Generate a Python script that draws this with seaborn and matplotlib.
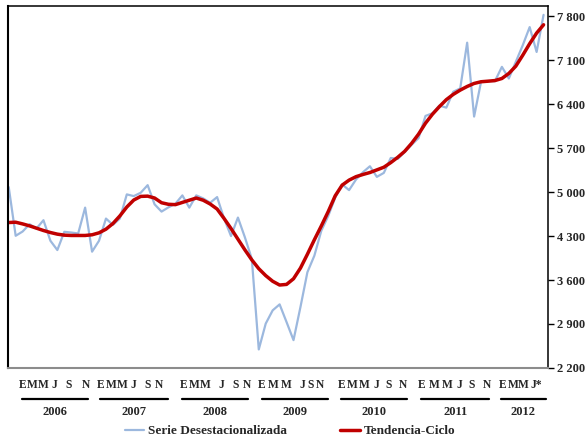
import numpy as np
import pandas as pd
import matplotlib
matplotlib.use("Agg")
import matplotlib.pyplot as plt
import seaborn as sns

# Serie mensual ene-2006 a jun-2012
serie_desest = [5079, 4304, 4372, 4488, 4420, 4552, 4225, 4077, 4367, 4356, 4341, 4752,
                4051, 4225, 4578, 4478, 4578, 4963, 4936, 4989, 5110, 4805, 4689, 4757,
                4815, 4947, 4752, 4947, 4899, 4830, 4920, 4580, 4300, 4594, 4280, 3934,
                2495, 2906, 3117, 3212, 2930, 2643, 3170, 3724, 3987, 4383, 4620, 4910,
                5121, 5031, 5200, 5316, 5411, 5242, 5305, 5543, 5527, 5637, 5753, 5859,
                6212, 6254, 6376, 6344, 6597, 6650, 7378, 6202, 6756, 6766, 6766, 6993,
                6808, 7072, 7336, 7626, 7230, 7821]
tendencia = [4515, 4520, 4493, 4462, 4425, 4388, 4356, 4330, 4314, 4309, 4309, 4309,
             4320, 4351, 4409, 4499, 4620, 4762, 4873, 4931, 4935, 4905, 4830, 4805,
             4800, 4835, 4870, 4905, 4870, 4810, 4730, 4580, 4420, 4250, 4080, 3920,
             3780, 3670, 3580, 3520, 3530, 3620, 3790, 4010, 4240, 4460, 4690, 4940,
             5110, 5190, 5245, 5280, 5311, 5353, 5395, 5469, 5553, 5648, 5775, 5922,
             6096, 6239, 6360, 6471, 6555, 6623, 6681, 6729, 6756, 6765, 6775, 6808,
             6888, 7004, 7178, 7362, 7531, 7663]

anios = ["2006", "2007", "2008", "2009", "2010", "2011", "2012"]
meses_etiq = [["E", "M", "M", "J", "S", "N"]] * 6 + [["E", "M", "M", "J*"]]
# posicion (en meses) de cada letra bajo el eje
meses_pos = [[2.0, 3.4, 4.9, 6.6, 8.6, 11.1],
             [13.2, 14.8, 16.4, 18.0, 20.0, 21.7],
             [25.2, 26.7, 28.3, 30.6, 32.6, 34.3],
             [36.4, 38.1, 39.9, 42.2, 43.5, 44.8],
             [47.9, 49.4, 51.2, 52.9, 54.7, 56.7],
             [59.4, 61.2, 63.2, 64.9, 66.6, 68.8],
             [71.1, 72.6, 74.1, 75.9]]
anio_tramos = [(1.9, 11.4), (13.1, 22.9), (24.9, 34.5), (36.4, 45.9),
               (47.9, 57.4), (59.4, 69.2), (70.9, 77.3)]
y_ticks = [2200, 2900, 3600, 4300, 5000, 5700, 6400, 7100, 7800]

df = pd.DataFrame({"mes": np.arange(len(serie_desest)),
                   "serie": serie_desest, "tendencia": tendencia})

sns.set_style("white")
plt.rcParams["font.family"] = ["Liberation Serif", "DejaVu Serif"]
plt.rcParams["font.weight"] = "bold"

fig = plt.figure(figsize=(5.86, 4.37), dpi=100)
ax = fig.add_axes([0.0137, 0.158, 0.921, 0.828])

sns.lineplot(data=df, x="mes", y="serie", ax=ax, color="#9cb8de", lw=1.6,
             label="Serie Desestacionalizada")
sns.lineplot(data=df, x="mes", y="tendencia", ax=ax, color="#c00000", lw=2.5,
             label="Tendencia-Ciclo")

ax.set_xlim(-0.1, 77.6)
ax.set_ylim(2200, 7960)
ax.set_xlabel("")
ax.set_ylabel("")

ax.yaxis.tick_right()
ax.set_yticks(y_ticks)
ax.set_yticklabels([f"{v:,}".replace(",", " ") for v in y_ticks],
                   fontsize=9, fontweight="bold")
ax.tick_params(axis="y", direction="out", length=4, width=1, color="black", pad=3)

ax.set_xticks(np.linspace(0.39, 77.3, 58))
ax.set_xticklabels([])
ax.tick_params(axis="x", direction="out", length=5, width=1.3, color="#7f7f7f")

for lado in ["left", "top", "right"]:
    ax.spines[lado].set_color("black")
ax.spines["left"].set_linewidth(1.5)
ax.spines["top"].set_linewidth(1.1)
ax.spines["right"].set_linewidth(1.1)
ax.spines["bottom"].set_color("#8c8c8c")
ax.spines["bottom"].set_linewidth(1.5)

trans = ax.get_xaxis_transform()
for etiqs, posiciones in zip(meses_etiq, meses_pos):
    for e, p in zip(etiqs, posiciones):
        ax.text(p, -0.047, e, transform=trans, ha="center", va="center",
                fontsize=8.3, fontweight="bold", clip_on=False)
for anio, (a, b) in zip(anios, anio_tramos):
    ax.plot([a, b], [-0.086, -0.086], transform=trans, color="black", lw=1.6,
            clip_on=False)
    ax.text((a + b) / 2, -0.122, anio, transform=trans, ha="center", va="center",
            fontsize=9, fontweight="bold")

handles, labels = ax.get_legend_handles_labels()
ax.get_legend().remove()
fig.legend(handles, labels, loc="center", bbox_to_anchor=(0.495, 0.013), ncol=2,
           frameon=False, columnspacing=4.0, handlelength=1.5, handletextpad=0.3,
           prop={"size": 9.5, "weight": "bold"})

fig.savefig("out.png", dpi=100)
